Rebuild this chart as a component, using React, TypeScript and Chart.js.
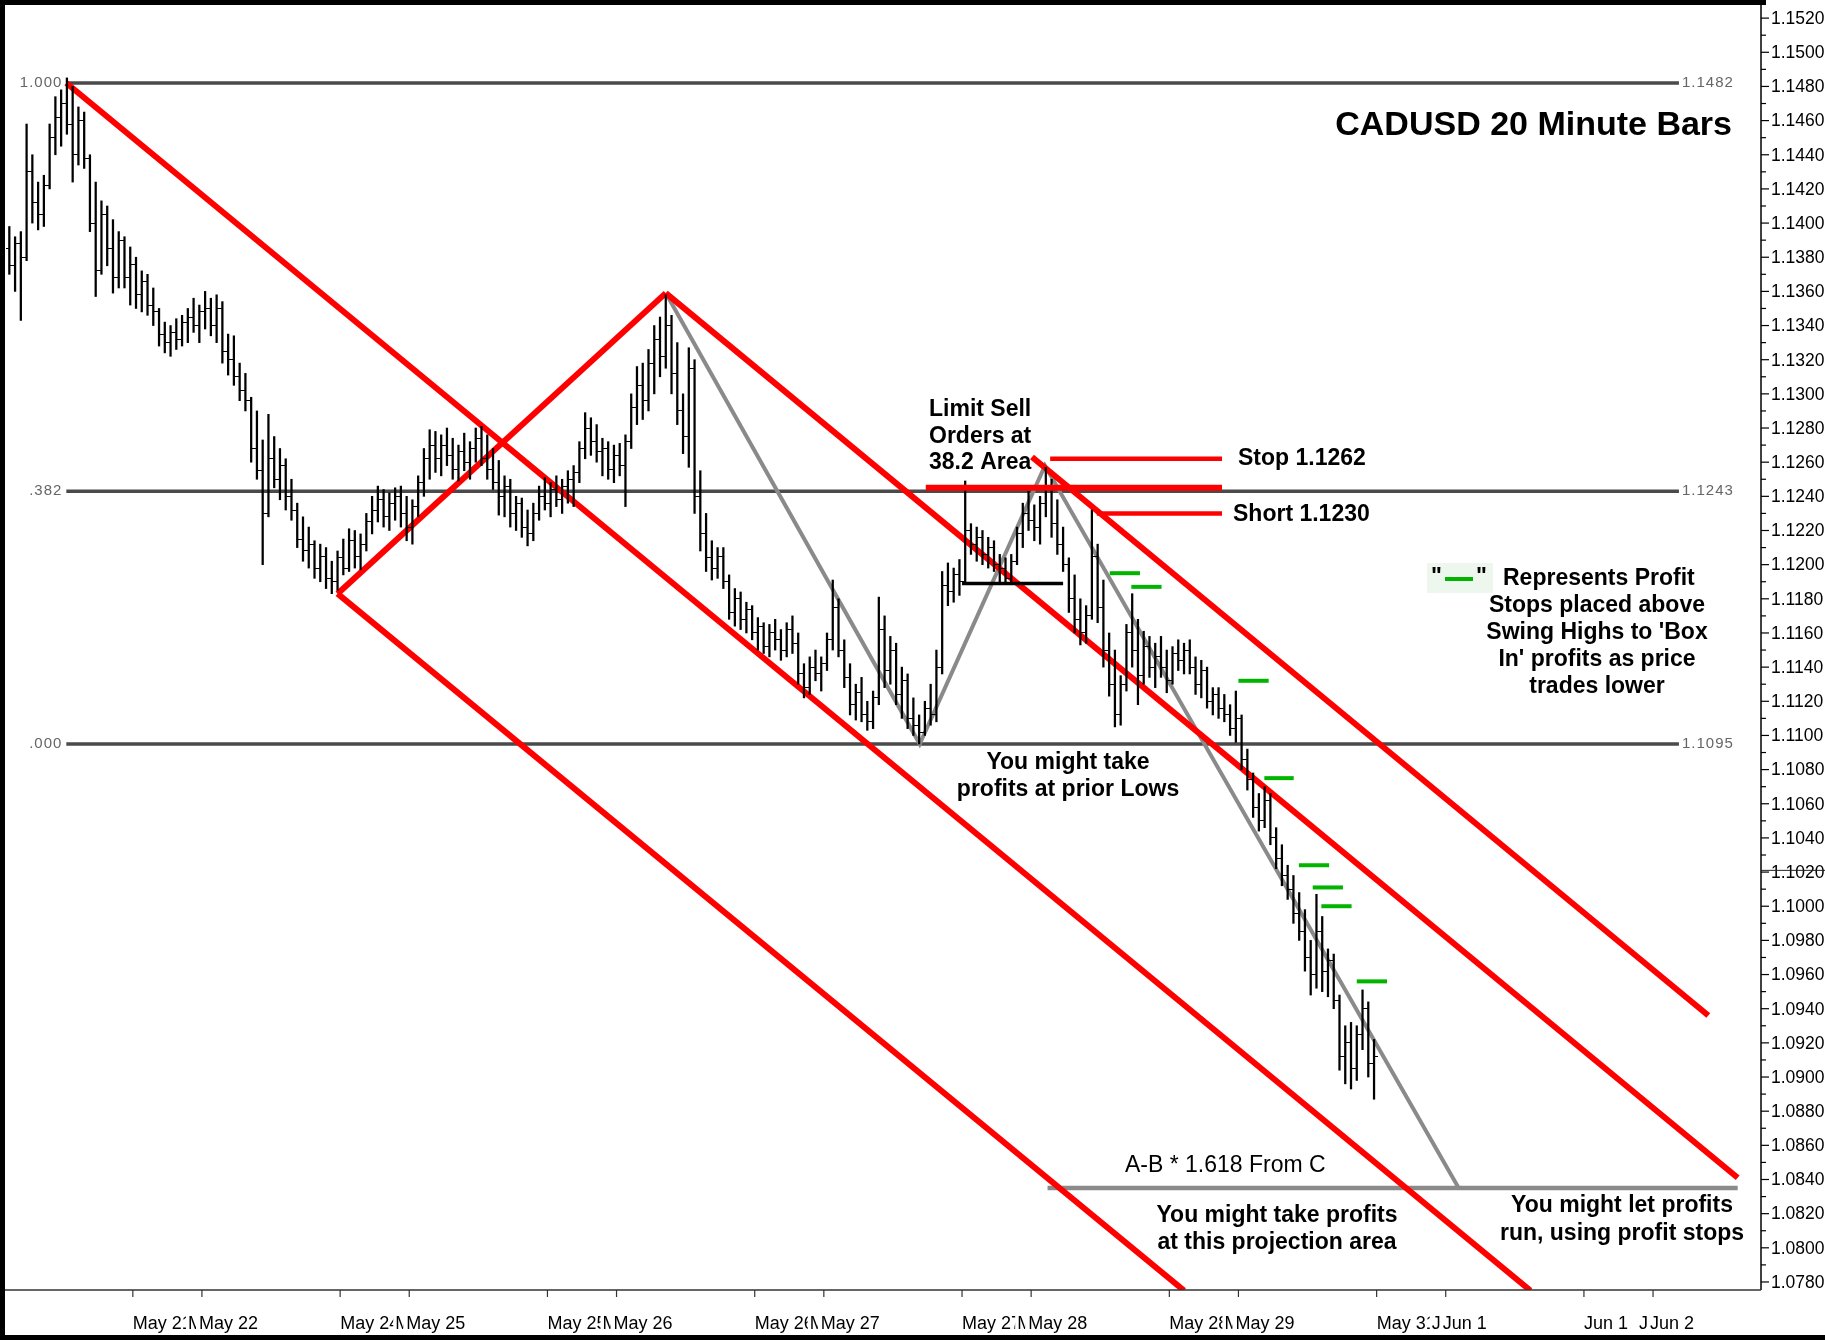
import React, { useEffect, useRef } from 'react';
import { Chart, registerables } from 'chart.js';

Chart.register(...registerables);

// ---- price bars (40-minute bars, prices in pips above 1.0000) ----
const barStartHour = 0.5;
const barIntervalHours = 2 / 3;

const barOpen = [
  1385, 1375, 1388, 1380, 1430, 1412, 1405, 1422, 1450, 1462,
  1470, 1458, 1440, 1460, 1438, 1400, 1372, 1405, 1385, 1368,
  1390, 1368, 1376, 1358, 1366, 1352, 1348, 1335, 1330, 1336,
  1332, 1342, 1345, 1340, 1348, 1350, 1340, 1350, 1325, 1320,
  1310, 1302, 1296, 1268, 1255, 1230, 1262, 1250, 1258, 1240,
  1232, 1215, 1208, 1212, 1198, 1205, 1192, 1190, 1204, 1198,
  1214, 1205, 1212, 1225, 1232, 1238, 1228, 1236, 1240, 1230,
  1222, 1234, 1248, 1262, 1270, 1262, 1270, 1264, 1256, 1266,
  1260, 1268, 1274, 1262, 1256, 1248, 1240, 1246, 1230, 1236,
  1222, 1218, 1230, 1240, 1236, 1244, 1238, 1246, 1250, 1254,
  1268, 1280, 1272, 1266, 1268, 1256, 1264, 1258, 1272, 1292,
  1305, 1296, 1318, 1332, 1322, 1340, 1312, 1290, 1275, 1315,
  1240, 1218, 1204, 1198, 1205, 1190, 1172, 1180, 1168, 1174,
  1160, 1164, 1152, 1160, 1156, 1150, 1162, 1154, 1136, 1128,
  1140, 1136, 1142, 1156, 1175, 1150, 1134, 1118, 1125, 1112,
  1108, 1122, 1162, 1138, 1150, 1124, 1132, 1110, 1106, 1102,
  1116, 1112, 1140, 1188, 1184, 1194, 1190, 1220, 1212, 1216,
  1206, 1210, 1200, 1198, 1192, 1202, 1218, 1230, 1226, 1222,
  1236, 1245, 1224, 1212, 1200, 1180, 1168, 1160, 1170, 1205,
  1175, 1150, 1130, 1112, 1130, 1160, 1150, 1135, 1152, 1140,
  1146, 1140, 1132, 1148, 1144, 1150, 1140, 1130, 1138, 1120,
  1124, 1116, 1112, 1104, 1110, 1086, 1074, 1058, 1050, 1062,
  1040, 1028, 1018, 1010, 996, 985, 970, 960, 985, 962,
  968, 945, 912, 920, 905, 925, 940, 908,
];

const barHigh = [
  1398, 1392, 1395, 1458, 1440, 1424, 1428, 1458, 1474, 1478,
  1485, 1480, 1468, 1465, 1440, 1424, 1413, 1410, 1402, 1395,
  1392, 1386, 1380, 1372, 1370, 1362, 1350, 1342, 1340, 1344,
  1346, 1350, 1356, 1352, 1360, 1356, 1358, 1354, 1335, 1334,
  1318, 1312, 1298, 1290, 1273, 1288, 1275, 1268, 1262, 1250,
  1236, 1228, 1222, 1214, 1212, 1210, 1202, 1208, 1215, 1221,
  1220, 1218, 1230, 1240, 1246, 1244, 1242, 1245, 1246, 1240,
  1238, 1252, 1268, 1279, 1278, 1276, 1280, 1274, 1270, 1277,
  1272, 1280, 1281, 1276, 1268, 1261, 1252, 1250, 1240, 1239,
  1232, 1236, 1246, 1251, 1248, 1252, 1250, 1255, 1258, 1272,
  1289, 1286, 1282, 1274, 1272, 1270, 1271, 1276, 1300, 1316,
  1318, 1326, 1340, 1345, 1358, 1346, 1330, 1300, 1327, 1320,
  1255, 1230, 1214, 1210, 1210, 1194, 1186, 1184, 1178, 1176,
  1169, 1166, 1165, 1168, 1162, 1166, 1170, 1160, 1142, 1146,
  1150, 1146, 1160, 1191, 1180, 1156, 1142, 1130, 1134, 1120,
  1126, 1181, 1170, 1158, 1154, 1140, 1136, 1122, 1112, 1120,
  1130, 1150, 1196, 1201, 1198, 1203, 1249, 1224, 1222, 1220,
  1216, 1214, 1206, 1204, 1206, 1222, 1236, 1243, 1235, 1240,
  1257, 1250, 1238, 1222, 1204, 1194, 1180, 1176, 1232, 1212,
  1191, 1160, 1150, 1135, 1165, 1183, 1168, 1161, 1158, 1154,
  1158, 1150, 1152, 1156, 1154, 1156, 1146, 1144, 1140, 1128,
  1128, 1124, 1118, 1126, 1112, 1092, 1078, 1066, 1070, 1066,
  1046, 1036, 1024, 1018, 1008, 998, 980, 1007, 994, 975,
  972, 948, 930, 932, 930, 951, 944, 922,
];

const barLow = [
  1370, 1360, 1343, 1378, 1400, 1396, 1398, 1420, 1440, 1445,
  1452, 1424, 1434, 1432, 1395, 1357, 1370, 1375, 1359, 1362,
  1362, 1352, 1350, 1348, 1346, 1340, 1328, 1324, 1322, 1326,
  1328, 1330, 1336, 1330, 1338, 1334, 1330, 1318, 1311, 1305,
  1296, 1290, 1260, 1250, 1200, 1228, 1245, 1238, 1232, 1226,
  1210, 1202, 1198, 1192, 1190, 1186, 1183, 1185, 1194, 1196,
  1198, 1197, 1208, 1218, 1225, 1222, 1220, 1226, 1222, 1214,
  1212, 1228, 1240, 1250, 1254, 1252, 1258, 1250, 1249, 1255,
  1250, 1260, 1258, 1250, 1244, 1229, 1228, 1222, 1220, 1216,
  1211, 1214, 1226, 1232, 1228, 1234, 1230, 1236, 1234, 1248,
  1262, 1264, 1260, 1252, 1250, 1248, 1252, 1234, 1268, 1282,
  1285, 1290, 1300, 1310, 1315, 1300, 1282, 1265, 1257, 1230,
  1208, 1196, 1191, 1192, 1186, 1168, 1164, 1162, 1160, 1156,
  1150, 1148, 1146, 1150, 1144, 1146, 1148, 1130, 1122, 1124,
  1132, 1126, 1138, 1150, 1146, 1128, 1112, 1109, 1108, 1103,
  1104, 1118, 1128, 1130, 1118, 1110, 1104, 1100, 1095, 1100,
  1106, 1108, 1136, 1176, 1178, 1182, 1189, 1206, 1202, 1200,
  1198, 1196, 1190, 1189, 1189, 1200, 1210, 1220, 1214, 1212,
  1228, 1216, 1206, 1196, 1172, 1160, 1153, 1154, 1168, 1166,
  1140, 1123, 1105, 1106, 1126, 1140, 1118, 1130, 1134, 1128,
  1134, 1125, 1130, 1138, 1136, 1136, 1124, 1122, 1116, 1112,
  1110, 1108, 1100, 1096, 1080, 1068, 1052, 1044, 1046, 1036,
  1022, 1012, 1004, 990, 980, 962, 948, 952, 950, 947,
  940, 904, 896, 893, 898, 916, 900, 887,
];

const barClose = [
  1375, 1388, 1380, 1430, 1412, 1405, 1422, 1450, 1462, 1470,
  1458, 1440, 1460, 1438, 1400, 1372, 1405, 1385, 1368, 1390,
  1368, 1376, 1358, 1366, 1352, 1348, 1335, 1330, 1336, 1332,
  1342, 1345, 1340, 1348, 1350, 1340, 1350, 1325, 1320, 1310,
  1302, 1296, 1268, 1255, 1230, 1262, 1250, 1258, 1240, 1232,
  1215, 1208, 1212, 1198, 1205, 1192, 1190, 1204, 1198, 1214,
  1205, 1212, 1225, 1232, 1238, 1228, 1236, 1240, 1230, 1222,
  1234, 1248, 1262, 1270, 1262, 1270, 1264, 1256, 1266, 1260,
  1268, 1274, 1262, 1256, 1248, 1240, 1246, 1230, 1236, 1222,
  1218, 1230, 1240, 1236, 1244, 1238, 1246, 1250, 1254, 1268,
  1280, 1272, 1266, 1268, 1256, 1264, 1258, 1272, 1292, 1305,
  1296, 1318, 1332, 1322, 1340, 1312, 1290, 1275, 1315, 1240,
  1218, 1204, 1198, 1205, 1190, 1172, 1180, 1168, 1174, 1160,
  1164, 1152, 1160, 1156, 1150, 1162, 1154, 1136, 1128, 1140,
  1136, 1142, 1156, 1175, 1150, 1134, 1118, 1125, 1112, 1108,
  1122, 1162, 1138, 1150, 1124, 1132, 1110, 1106, 1102, 1116,
  1112, 1140, 1188, 1184, 1194, 1190, 1220, 1212, 1216, 1206,
  1210, 1200, 1198, 1192, 1202, 1218, 1230, 1226, 1222, 1236,
  1245, 1224, 1212, 1200, 1180, 1168, 1160, 1170, 1205, 1175,
  1150, 1130, 1112, 1130, 1160, 1150, 1135, 1152, 1140, 1146,
  1140, 1132, 1148, 1144, 1150, 1140, 1130, 1138, 1120, 1124,
  1116, 1112, 1104, 1110, 1086, 1074, 1058, 1050, 1062, 1040,
  1028, 1018, 1010, 996, 985, 970, 960, 985, 962, 968,
  945, 912, 920, 905, 925, 940, 908, 912,
];

// ---- axes ----
const yTickLabels = [
  '1.0780', '1.0800', '1.0820', '1.0840', '1.0860', '1.0880', '1.0900', '1.0920',
  '1.0940', '1.0960', '1.0980', '1.1000', '1.1020', '1.1040', '1.1060', '1.1080',
  '1.1100', '1.1120', '1.1140', '1.1160', '1.1180', '1.1200', '1.1220', '1.1240',
  '1.1260', '1.1280', '1.1300', '1.1320', '1.1340', '1.1360', '1.1380', '1.1400',
  '1.1420', '1.1440', '1.1460', '1.1480', '1.1500', '1.1520',
];
const xTickHours = [14.8, 22.8, 38.8, 46.8, 62.8, 70.8, 86.8, 94.8, 110.8, 118.8, 134.8, 142.8, 158.8, 166.8, 182.8, 190.8];
const xTickLabels = ['May 21', 'May 22', 'May 24', 'May 25', 'May 25', 'May 26', 'May 26', 'May 27', 'May 27', 'May 28', 'May 28', 'May 29', 'May 31', 'Jun 1', 'Jun 1', 'Jun 2'];

// ---- fibonacci retracement ----
const fibRatioLabels = ['1.000', '.382', '.000'];
const fibValues = [1.1482, 1.1243, 1.1095];
const fibHours = [7.1, 193.8];

// ---- red channel lines (start/end) ----
const redLineStartHours = [38.5, 38.5, 7.1, 76.5, 118.9];
const redLineStartValues = [1.1183, 1.1183, 1.1482, 1.1359, 1.1263];
const redLineEndHours = [76.5, 136.5, 176.6, 200.6, 197.2];
const redLineEndValues = [1.1359, 1.0775, 1.0775, 1.0841, 1.0936];

// ---- ABCD gray path & projection ----
const abcdHours = [76.5, 105.9, 120.4, 168.3];
const abcdValues = [1.1359, 1.1095, 1.1258, 1.0835];
const projectionHours = [120.7, 200.6];
const projectionValue = 1.0835;

// ---- trade levels ----
const tradeLevelValues = [1.1245, 1.1262, 1.1230];
const tradeLevelStartHours = [106.6, 121.0, 126.4];
const tradeLevelEndHours = [140.9, 140.9, 140.9];
const priorLowValue = 1.1189;
const priorLowHours = [110.8, 122.5];

// ---- profit stops ----
const profitStopStartHours = [127.9, 130.4, 142.8, 145.8, 149.8, 151.4, 152.4, 156.5];
const profitStopEndHours = [131.4, 133.9, 146.3, 149.2, 153.3, 154.9, 155.9, 160.0];
const profitStopValues = [1.1195, 1.1187, 1.1132, 1.1075, 1.1024, 1.1011, 1.1000, 1.0956];

const FONT = '"Liberation Sans", Arimo, Arial, sans-serif';
const pip = (p: number) => 1 + p / 10000;

export default function App() {
  const ref = useRef<HTMLCanvasElement>(null);

  useEffect(() => {
    document.body.style.margin = '0';
    const canvas = ref.current!;

    const makeTick = (left: boolean) => {
      const c = document.createElement('canvas');
      c.width = 7;
      c.height = 1;
      const g = c.getContext('2d')!;
      g.fillStyle = '#000';
      g.fillRect(left ? 0 : 3.5, 0, 3.5, 1);
      return c;
    };
    const openTick = makeTick(true);
    const closeTick = makeTick(false);

    const barX = barHigh.map((_, i) => barStartHour + i * barIntervalHours);

    const seg = (x1: number, y1: number, x2: number, y2: number, color: string, width: number, order: number) => ({
      type: 'line' as const,
      data: [{ x: x1, y: y1 }, { x: x2, y: y2 }],
      borderColor: color,
      borderWidth: width,
      pointRadius: 0,
      fill: false,
      order,
      borderCapStyle: 'butt' as const,
    });

    const datasets: any[] = [];
    // fib lines (bottom)
    fibValues.forEach((v) => datasets.push(seg(fibHours[0], v, fibHours[1], v, '#4a4a4a', 3.5, 9)));
    // red channel
    redLineStartHours.forEach((h, k) =>
      datasets.push(seg(h, redLineStartValues[k], redLineEndHours[k], redLineEndValues[k], '#ff0000', 6, 6)),
    );
    // gray ABCD
    datasets.push({
      type: 'line',
      data: abcdHours.map((h, k) => ({ x: h, y: abcdValues[k] })),
      borderColor: '#8a8a8a',
      borderWidth: 4,
      pointRadius: 0,
      fill: false,
      order: 7,
    });
    datasets.push(seg(projectionHours[0], projectionValue, projectionHours[1], projectionValue, '#8a8a8a', 4.5, 7));
    // bars
    datasets.push({
      type: 'bar',
      data: barX.map((x, i) => ({ x, y: [pip(barLow[i]), pip(barHigh[i])] })),
      backgroundColor: '#000',
      borderWidth: 0,
      barThickness: 1.6,
      grouped: false,
      order: 4,
    });
    datasets.push({
      type: 'scatter',
      data: barX.map((x, i) => ({ x, y: pip(barOpen[i]) })),
      pointStyle: openTick,
      pointRadius: 3,
      showLine: false,
      order: 3,
    });
    datasets.push({
      type: 'scatter',
      data: barX.map((x, i) => ({ x, y: pip(barClose[i]) })),
      pointStyle: closeTick,
      pointRadius: 3,
      showLine: false,
      order: 3,
    });
    // trade levels
    const levelWidths = [6, 4.5, 4.5];
    tradeLevelValues.forEach((v, k) =>
      datasets.push(seg(tradeLevelStartHours[k], v, tradeLevelEndHours[k], v, '#ff0000', levelWidths[k], 1)),
    );
    datasets.push(seg(priorLowHours[0], priorLowValue, priorLowHours[1], priorLowValue, '#000000', 3.5, 1));
    profitStopValues.forEach((v, k) =>
      datasets.push(seg(profitStopStartHours[k], v, profitStopEndHours[k], v, '#00b400', 4, 0)),
    );

    const decor = {
      id: 'decor',
      beforeDraw(chart: any) {
        const { ctx, width, height } = chart;
        ctx.save();
        ctx.fillStyle = '#fff';
        ctx.fillRect(0, 0, width, height);
        ctx.restore();
      },
      afterDraw(chart: any) {
        const { ctx, chartArea: a } = chart;
        const xs = chart.scales.x;
        const ys = chart.scales.y;
        const line = (x1: number, y1: number, x2: number, y2: number) => {
          ctx.beginPath();
          ctx.moveTo(x1, y1);
          ctx.lineTo(x2, y2);
          ctx.stroke();
        };
        const text = (s: string, x: number, y: number, font: string, align: CanvasTextAlign = 'left', color = '#000') => {
          ctx.font = font;
          ctx.textAlign = align;
          ctx.textBaseline = 'middle';
          ctx.fillStyle = color;
          ctx.fillText(s, x, y);
        };
        ctx.save();

        // axis lines
        ctx.strokeStyle = '#000';
        ctx.lineWidth = 1.5;
        line(a.right, 5, a.right, a.bottom);
        ctx.strokeStyle = '#333';
        line(a.left, a.bottom, a.right, a.bottom);

        // y ticks & labels
        ctx.strokeStyle = '#000';
        ctx.lineWidth = 1.2;
        yTickLabels.forEach((lbl) => {
          const v = parseFloat(lbl);
          const py = ys.getPixelForValue(v);
          line(a.right, py, a.right + 8, py);
          text(lbl, a.right + 10, py + 1, `17.5px ${FONT}`);
          const vm = v + 0.001;
          if (vm < ys.max) {
            const pm = ys.getPixelForValue(vm);
            line(a.right, pm, a.right + 5, pm);
          }
        });
        // stray mark across 1.1020 label
        ctx.strokeStyle = '#222';
        ctx.lineWidth = 1;
        const ps = ys.getPixelForValue(1.1021);
        line(a.right, ps, 1825, ps);

        // x ticks
        ctx.strokeStyle = '#333';
        ctx.lineWidth = 1.2;
        xTickHours.forEach((h) => {
          const px = xs.getPixelForValue(h);
          line(px, a.bottom, px, a.bottom + 7);
        });
        // x labels (paired, overlapping)
        const ly = a.bottom + 34;
        const lf = `18px ${FONT}`;
        for (let k = 0; k < xTickHours.length; k += 2) {
          const t1 = xs.getPixelForValue(xTickHours[k]);
          const t2 = xs.getPixelForValue(xTickHours[k + 1]);
          ctx.save();
          ctx.beginPath();
          ctx.rect(t1 - 2, a.bottom + 10, t2 - 16 - (t1 - 2), 36);
          ctx.clip();
          text(xTickLabels[k], t1, ly, lf);
          ctx.restore();
          ctx.save();
          ctx.beginPath();
          ctx.rect(t2 - 14, a.bottom + 10, 8, 36);
          ctx.clip();
          text(xTickLabels[k + 1], t2 - 14, ly, lf);
          ctx.restore();
          text(xTickLabels[k + 1], t2 - 3, ly, lf);
        }

        // fib labels
        const fibFont = `15px ${FONT}`;
        (ctx as any).letterSpacing = '1px';
        fibValues.forEach((v, k) => {
          const py = ys.getPixelForValue(v);
          text(fibRatioLabels[k], xs.getPixelForValue(fibHours[0]) - 4, py, fibFont, 'right', '#666');
          text(v.toFixed(4), xs.getPixelForValue(fibHours[1]) + 3, py, fibFont, 'left', '#666');
        });
        (ctx as any).letterSpacing = '0px';

        // title
        text('CADUSD 20 Minute Bars', 1732, 126, `bold 34px ${FONT}`, 'right');

        const B = `bold 23px ${FONT}`;
        text('Limit Sell', 929, 410, B);
        text('Orders at', 929, 437, B);
        text('38.2 Area', 929, 463, B);
        text('Stop 1.1262', 1238, 459, B);
        text('Short 1.1230', 1233, 515, B);

        // legend for profit stops
        ctx.fillStyle = '#eef7ee';
        ctx.fillRect(1427, 563, 66, 30);
        text('"', 1431, 578, B);
        text('"', 1476, 578, B);
        ctx.strokeStyle = '#00b400';
        ctx.lineWidth = 4;
        line(1445, 579, 1473, 579);
        text('Represents Profit', 1503, 579, B);
        text('Stops placed above', 1597, 606, B, 'center');
        text("Swing Highs to 'Box", 1597, 633, B, 'center');
        text("In' profits as price", 1597, 660, B, 'center');
        text('trades lower', 1597, 687, B, 'center');

        text('You might take', 1068, 763, B, 'center');
        text('profits at prior Lows', 1068, 790, B, 'center');

        text('A-B * 1.618 From C', 1125, 1166, `23px ${FONT}`);
        text('You might take profits', 1277, 1216, B, 'center');
        text('at this projection area', 1277, 1243, B, 'center');
        text('You might let profits', 1622, 1206, B, 'center');
        text('run, using profit stops', 1622, 1234, B, 'center');

        // outer frame
        ctx.fillStyle = '#000';
        ctx.fillRect(0, 0, 1766, 5);
        ctx.fillRect(0, 0, 5, 1340);
        ctx.fillRect(0, 1335, 1825, 5);
        ctx.restore();
      },
    };

    const chart = new Chart(canvas, {
      type: 'scatter',
      data: { datasets },
      options: {
        responsive: false,
        maintainAspectRatio: false,
        devicePixelRatio: 1,
        animation: false,
        events: [],
        layout: { padding: { left: 5, right: 64, top: 6, bottom: 50 } },
        plugins: { legend: { display: false }, tooltip: { enabled: false } },
        scales: {
          x: { type: 'linear', min: 0, max: 203.3, display: false, offset: false },
          y: { type: 'linear', min: 1.07753, max: 1.15271, display: false },
        },
      },
      plugins: [decor],
    } as any);

    return () => chart.destroy();
  }, []);

  return (
    <div style={{ position: 'absolute', left: 0, top: 0, width: 1825, height: 1340 }}>
      <canvas ref={ref} width={1825} height={1340} style={{ display: 'block', width: 1825, height: 1340 }} />
    </div>
  );
}
